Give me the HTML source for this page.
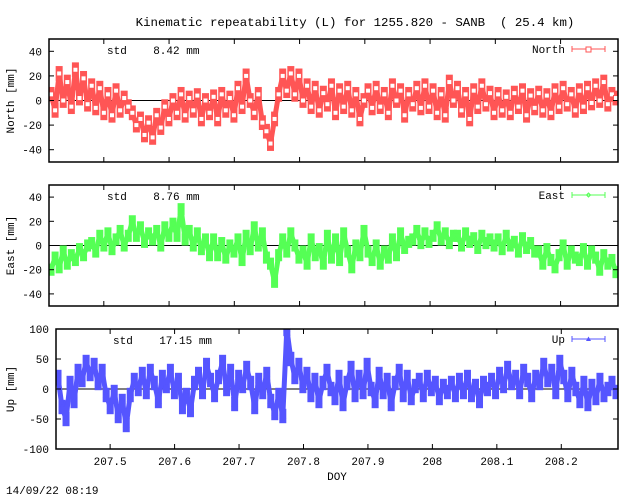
<!DOCTYPE html>
<html><head><meta charset="utf-8"><style>
html,body{margin:0;padding:0;background:#fff;}
svg{display:block;font-family:"Liberation Mono","DejaVu Sans Mono",monospace;font-size:11px;}
</style></head><body>
<svg id="chart" width="640" height="496" viewBox="0 0 640 496" xmlns="http://www.w3.org/2000/svg">
<text x="355" y="26" text-anchor="middle" style="font-size:12.4px;white-space:pre">Kinematic repeatability (L) for 1255.820 - SANB  ( 25.4 km)</text>
<text x="6" y="494">14/09/22 08:19</text>
<text x="337" y="480" text-anchor="middle">DOY</text>
<defs id="defs"></defs>
<g id="plots"></g>
</svg>
<script>
const northValues=[5,-8,22,0,15,-5,25,2,18,-3, 12,-6,10,-10,5,-12,8,-8,2,-5, -10,-20,-15,-28,-18,-30,-12,-22,-5,-15, 0,-10,5,-12,2,-8,4,-15,0,-10, 3,-15,5,-8,2,-12,10,-5,20,0, -10,5,-18,-25,-35,-15,5,20,8,22, 5,20,0,12,-5,10,-8,6,-3,12, -10,8,-5,10,-8,5,-15,0,8,-6, 10,-5,5,-10,12,0,8,-12,5,-3, 10,-6,12,-5,8,-10,5,-12,15,0, 10,-8,5,-15,8,-5,12,-3,6,-10, 5,-8,3,-10,6,-5,8,-12,4,-6, 6,-8,4,-10,8,-5,10,-3,5,-8, 8,-5,10,-2,12,0,15,-3,5,2];
const eastValues=[-20,-10,-18,-5,-15,-8,-12,-3,-8,0, 2,-5,8,0,10,-3,5,12,0,8, 20,8,15,3,10,5,12,0,15,8, 18,8,30,5,12,0,10,-3,5,-8, 5,-8,2,-10,0,-5,5,-12,8,-3, 15,0,10,-10,-15,-30,-8,5,-5,10, 0,-10,-5,-15,5,-8,-3,-15,8,-10, 5,-12,10,-5,-18,0,-8,12,-5,-12, 0,-15,-5,-10,5,-8,10,-2,3,5, 12,2,10,3,8,15,5,10,2,8, 8,0,10,3,6,-2,8,2,5,0, 5,-3,8,0,3,-5,6,-2,2,-5, -5,-15,-3,-12,-18,-8,0,-15,-5,-10, -12,-3,-15,-5,-10,-20,-8,-15,-12,-22];
const upValues=[20,-30,-50,10,-20,30,15,45,25,40, 10,30,-10,-30,-5,-45,-20,-60,-10,15, 0,25,-5,30,10,-20,20,5,30,-5, 15,-30,-10,-35,10,25,-5,40,15,-10, 20,45,0,30,-25,20,5,35,10,-30, 15,-5,25,-20,-40,-10,-45,100,50,20, 40,5,25,-10,15,-20,10,30,0,-15, 20,-25,10,35,-10,20,-5,40,0,-20, 25,-5,15,-25,10,30,-10,20,-15,5, 15,-10,20,0,10,-15,5,-5,10,-10, 15,-5,20,-10,5,-20,10,0,15,-5, 25,5,35,10,20,-5,30,15,-10,20, 10,40,15,30,-5,45,20,-10,25,0, -20,10,-25,5,-15,15,-10,0,10,-5];
const errorBars=[6,5,12];
const xTicks=[207.5,207.6,207.7,207.8,207.9,208,208.1,208.2];
const xTickLabels=["207.5","207.6","207.7","207.8","207.9","208","208.1","208.2"];
const northTicks=[40,20,0,-20,-40];
const eastTicks=[40,20,0,-20,-40];
const upTicks=[100,50,0,-50,-100];
const stdLabels=["8.42 mm","8.76 mm","17.15 mm"];
const xMin=207.416, xMax=208.288;

const NS="http://www.w3.org/2000/svg";
const root=document.getElementById('plots');
const defs=document.getElementById('defs');
function mk(tag,attrs,parent){const e=document.createElementNS(NS,tag);for(const k in attrs)e.setAttribute(k,attrs[k]);(parent||root).appendChild(e);return e;}

const panels=[
 {name:'north',label:'North [mm]',legend:'North',vals:northValues,ticks:northTicks,ymin:-50,ymax:50,x0:49,x1:618,y0:39,y1:162,color:'#ff5555',marker:'square',std:stdLabels[0],err:errorBars[0]},
 {name:'east',label:'East [mm]',legend:'East',vals:eastValues,ticks:eastTicks,ymin:-50,ymax:50,x0:49,x1:618,y0:185,y1:306,color:'#55ff55',marker:'diamond',std:stdLabels[1],err:errorBars[1]},
 {name:'up',label:'Up [mm]',legend:'Up',vals:upValues,ticks:upTicks,ymin:-100,ymax:100,x0:56,x1:618,y0:329,y1:449,color:'#5555ff',marker:'triangle',std:stdLabels[2],err:errorBars[2]}
];

function marker(g,type,x,y,color){
  let e;
  if(type==='square'){e=mk('rect',{x:x-2.5,y:y-2.5,width:5,height:5,fill:'#fff',stroke:color,'stroke-width':1},g);}
  else if(type==='diamond'){e=mk('polygon',{points:`${x},${y-3} ${x+3},${y} ${x},${y+3} ${x-3},${y}`,fill:color},g);}
  else {e=mk('polygon',{points:`${x},${y-3.5} ${x+3.5},${y+2.5} ${x-3.5},${y+2.5}`,fill:color},g);}
  return e;
}

panels.forEach((p,pi)=>{
  const g=mk('g',{});
  
  
  const cp=mk('clipPath',{id:'clip'+pi},defs);
  mk('rect',{x:p.x0,y:p.y0,width:p.x1-p.x0,height:p.y1-p.y0},cp);
  const xs=t=>p.x0+(t-xMin)/(xMax-xMin)*(p.x1-p.x0);
  const ys=v=>p.y1-(v-p.ymin)/(p.ymax-p.ymin)*(p.y1-p.y0);
  const z=mk('line',{x1:p.x0,x2:p.x1,y1:ys(0),y2:ys(0),stroke:'#000','stroke-width':1},g);
  
  
  const n=p.vals.length;
  const pts=p.vals.map((v,i)=>[xs(xMin+(i+0.5)/n*(xMax-xMin)),ys(v),v]);
  const sg=mk('g',{'clip-path':`url(#clip${pi})`},g);
  
  
  pts.forEach(q=>{
    const top=ys(q[2]+p.err), bot=ys(q[2]-p.err);
    const eb=mk('rect',{x:q[0]-3.5,y:top,width:7,height:bot-top,fill:p.color},sg);
    
    
  });
  const pl=mk('polyline',{points:pts.map(q=>q[0]+','+q[1]).join(' '),fill:'none',stroke:p.color,'stroke-width':5,'stroke-linejoin':'round'},sg);
  
  
  pts.forEach(q=>{const m=marker(sg,p.marker,q[0],q[1],p.color);
    
    });
  const fr=mk('rect',{x:p.x0,y:p.y0,width:p.x1-p.x0,height:p.y1-p.y0,fill:'none',stroke:'#000','stroke-width':1.5},g);
  
  
  p.ticks.forEach(t=>{
    const y=ys(t);
    mk('line',{x1:p.x0,x2:p.x0+5,y1:y,y2:y,stroke:'#000'},g);
    mk('line',{x1:p.x1-5,x2:p.x1,y1:y,y2:y,stroke:'#000'},g);
    const tl=mk('text',{x:p.x0-7,y:y+4,'text-anchor':'end'},g);
    tl.textContent=String(t);
    
    
  });
  xTicks.forEach((t,i)=>{
    const x=xs(t);
    mk('line',{x1:x,x2:x,y1:p.y1,y2:p.y1-5,stroke:'#000'},g);
    mk('line',{x1:x,x2:x,y1:p.y0,y2:p.y0+5,stroke:'#000'},g);
    if(pi===2){
      const xl=mk('text',{x:x,y:p.y1+16,'text-anchor':'middle'},g);
      xl.textContent=xTickLabels[i];
      
      
    }
  });
  const cy=(p.y0+p.y1)/2;
  const yl=mk('text',{x:14,y:cy,'text-anchor':'middle',transform:`rotate(-90 14 ${cy})`},g);
  yl.textContent=p.label;
  
  
  const st=mk('text',{x:p.x0+(pi===2?57:58),y:p.y0+15},g);
  st.textContent='std    '+p.std;
  st.style.whiteSpace='pre';
  
  
  const lg=mk('g',{},g);
  
  
  const lt=mk('text',{x:565,y:p.y0+14,'text-anchor':'end'},lg);
  lt.textContent=p.legend;
  const ly=p.y0+10;
  mk('line',{x1:572,x2:605,y1:ly,y2:ly,stroke:p.color},lg);
  mk('line',{x1:572,x2:572,y1:ly-3,y2:ly+3,stroke:p.color},lg);
  mk('line',{x1:605,x2:605,y1:ly-3,y2:ly+3,stroke:p.color},lg);
  if(p.marker==='square') mk('rect',{x:586,y:ly-2,width:5,height:5,fill:'#fff',stroke:p.color},lg);
  else if(p.marker==='diamond') mk('polygon',{points:`588.5,${ly-2} 590.5,${ly} 588.5,${ly+2} 586.5,${ly}`,fill:'none',stroke:p.color},lg);
  else mk('polygon',{points:`588.5,${ly-2.5} 591,${ly+2} 586,${ly+2}`,fill:p.color},lg);
});
</script>
</body></html>
